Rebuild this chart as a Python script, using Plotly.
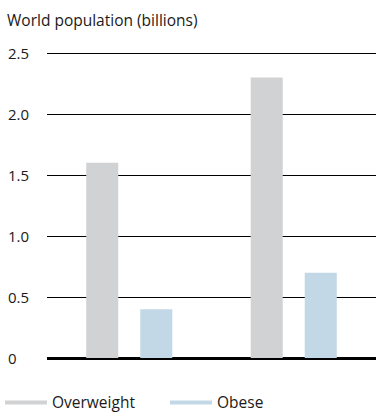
import plotly.graph_objects as go

categories = ["2005", "2015"]
overweight = [1.6, 2.3]
obese = [0.4, 0.7]
tick_vals = [0, 0.5, 1.0, 1.5, 2.0, 2.5]
tick_text = ["0", "0.5", "1.0", "1.5", "2.0", "2.5"]
title_text = "World population (billions)"

GRAY = "#d1d2d4"
BLUE = "#c2d8e6"
FONT = "Open Sans"
TXT = "#1a1a1a"

fig = go.Figure()
fig.add_trace(go.Bar(x=categories, y=overweight, name="Overweight",
                     marker=dict(color=GRAY, line=dict(width=0)), showlegend=False))
fig.add_trace(go.Bar(x=categories, y=obese, name="Obese",
                     marker=dict(color=BLUE, line=dict(width=0)), showlegend=False))
# legend proxies
fig.add_trace(go.Scatter(x=[None], y=[None], mode="lines", name="Overweight",
                         line=dict(color=GRAY, width=4)))
fig.add_trace(go.Scatter(x=[None], y=[None], mode="lines", name="Obese",
                         line=dict(color=BLUE, width=4)))

annotations = [dict(text=title_text, x=0, y=1, xref="paper", yref="paper",
                    xshift=-42, yshift=27, xanchor="left", yanchor="middle",
                    showarrow=False, font=dict(family=FONT, size=15.5, color=TXT))]
for v, t in zip(tick_vals, tick_text):
    annotations.append(dict(text=t, x=0, y=v, xref="paper", yref="y",
                            xshift=-41, xanchor="left", yanchor="middle",
                            showarrow=False, font=dict(family=FONT, size=15, color=TXT)))

fig.update_layout(
    width=376, height=414,
    margin=dict(l=47, r=0, t=47, b=56),
    paper_bgcolor="white", plot_bgcolor="white",
    barmode="group", bargap=0.343, bargroupgap=0.407,
    font=dict(family=FONT, size=15.5, color=TXT),
    xaxis=dict(showticklabels=False, showgrid=False, zeroline=False,
               showline=False, ticks="", range=[-0.5, 1.5]),
    yaxis=dict(range=[0, 2.55], tickvals=tick_vals, showticklabels=False,
               showgrid=True, gridcolor="#000", gridwidth=1,
               zeroline=True, zerolinecolor="#000", zerolinewidth=3,
               showline=False, ticks=""),
    legend=dict(orientation="h", x=0, xanchor="left", y=0.068, yanchor="top",
                xref="container", yref="container",
                font=dict(family=FONT, size=15.5, color=TXT),
                entrywidth=108, entrywidthmode="pixels", itemwidth=42),
    annotations=annotations,
)
fig.write_html("out.html")
